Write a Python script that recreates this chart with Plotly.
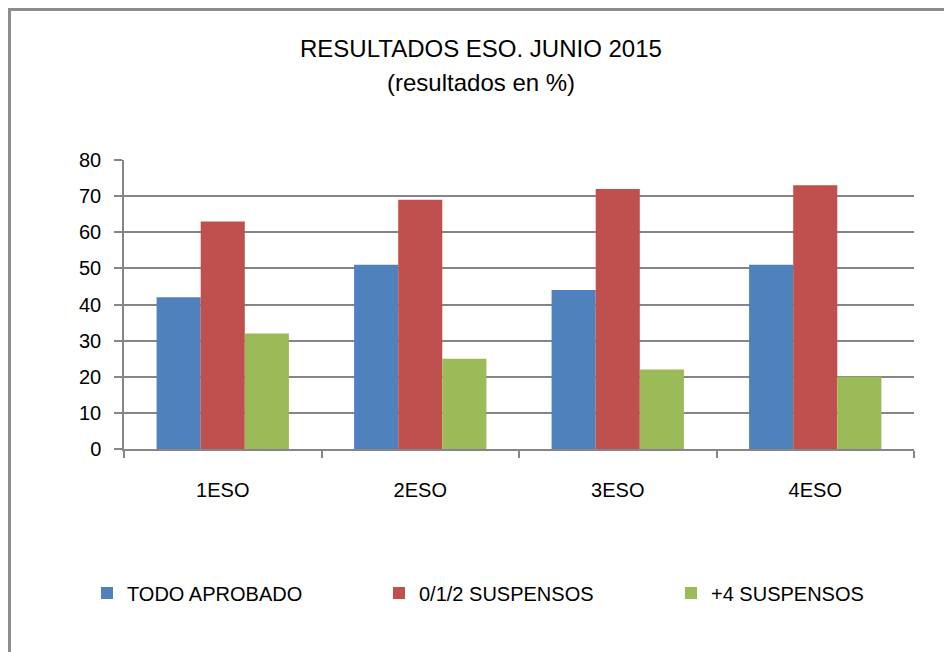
import plotly.graph_objects as go

categories = ["1ESO", "2ESO", "3ESO", "4ESO"]
todo_aprobado = [42, 51, 44, 51]
suspensos_012 = [63, 69, 72, 73]
suspensos_4 = [32, 25, 22, 20]
series_names = ["TODO APROBADO", "0/1/2 SUSPENSOS", "+4 SUSPENSOS"]
colors = ["#4F81BD", "#C0504D", "#9BBB59"]
y_ticks = [0, 10, 20, 30, 40, 50, 60, 70, 80]

FONT = "Liberation Sans, Arial, sans-serif"
GRID = "#868686"

W, H = 944, 652
L, R, T, B = 124, 30, 160, 203
pw, ph = W - L - R, H - T - B

def px_x(x):
    return (x - L) / pw

def px_y(y):
    return (H - B - y) / ph

fig = go.Figure()
for name, vals, c in zip(series_names, [todo_aprobado, suspensos_012, suspensos_4], colors):
    fig.add_trace(go.Bar(x=categories, y=vals, name=name, marker=dict(color=c, line=dict(width=0))))

fig.update_layout(
    width=W, height=H,
    margin=dict(l=L, r=R, t=T, b=B, autoexpand=False),
    paper_bgcolor="white", plot_bgcolor="white",
    barmode="group", bargap=0.33, bargroupgap=0,
    font=dict(family=FONT, size=20, color="black"),
    showlegend=True,
    legend=dict(
        orientation="h", x=px_x(87), xanchor="left", y=px_y(593), yanchor="middle",
        font=dict(family=FONT, size=20, color="black"),
        entrywidth=247, entrywidthmode="pixels", itemwidth=30,
        bgcolor="rgba(0,0,0,0)", traceorder="normal",
    ),
    xaxis=dict(
        type="category", showgrid=False, showline=True, linecolor=GRID, linewidth=1.5,
        ticks="outside", tickson="boundaries", ticklen=7, tickcolor=GRID, tickwidth=1.5,
        ticklabelstandoff=22, tickfont=dict(family=FONT, size=20, color="black"),
        zeroline=False,
    ),
    yaxis=dict(
        range=[0, 80], tickvals=y_ticks, showgrid=True, gridcolor=GRID, gridwidth=1.5,
        showline=True, linecolor=GRID, linewidth=1.5, ticks="outside", ticklen=8,
        tickcolor=GRID, tickwidth=1.5, ticklabelstandoff=9,
        tickfont=dict(family=FONT, size=20, color="black"), zeroline=False,
    ),
    shapes=[
        dict(type="rect", xref="paper", yref="paper",
             x0=px_x(9.5), x1=px_x(990), y0=px_y(9.5), y1=px_y(700),
             line=dict(color="#8C8C8C", width=3), fillcolor="rgba(0,0,0,0)", layer="above"),
        dict(type="line", xref="paper", yref="paper",
             x0=0, x1=0, y0=0, y1=px_y(456), line=dict(color=GRID, width=1.5)),
    ],
    annotations=[
        dict(text="RESULTADOS ESO. JUNIO 2015", xref="paper", yref="paper",
             x=px_x(481), y=px_y(48), xanchor="center", yanchor="middle", showarrow=False,
             font=dict(family=FONT, size=24, color="black")),
        dict(text="(resultados en %)", xref="paper", yref="paper",
             x=px_x(481), y=px_y(82), xanchor="center", yanchor="middle", showarrow=False,
             font=dict(family=FONT, size=24, color="black")),
    ],
)

fig.write_html(
    "out.html",
    config={"displayModeBar": False},
    post_script="document.body.style.margin='0';document.body.style.overflow='hidden';",
)
